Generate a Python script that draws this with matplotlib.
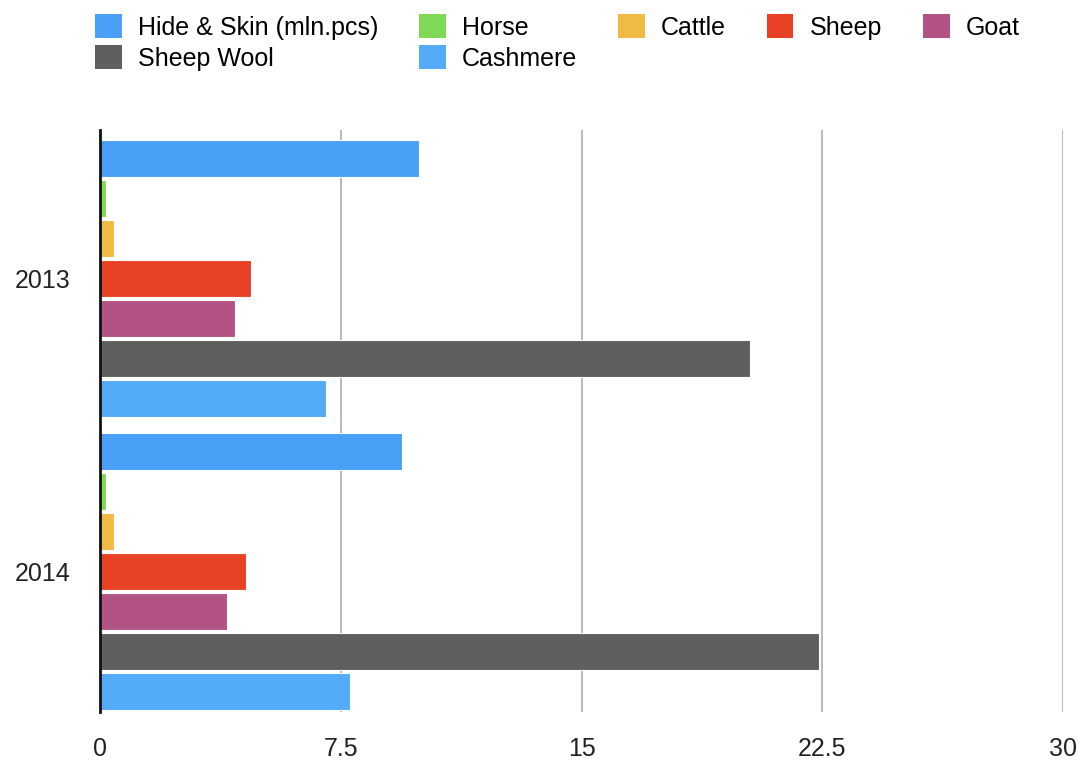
import numpy as np
import matplotlib.pyplot as plt
from matplotlib.patches import Patch

plt.rcParams['font.family'] = ['Liberation Sans', 'DejaVu Sans']

years = ['2013', '2014']
series = ['Hide & Skin (mln.pcs)', 'Horse', 'Cattle', 'Sheep', 'Goat', 'Sheep Wool', 'Cashmere']
hide_skin = [9.95, 9.4]
horse = [0.2, 0.2]
cattle = [0.45, 0.45]
sheep = [4.7, 4.55]
goat = [4.2, 3.95]
sheep_wool = [20.25, 22.4]
cashmere = [7.05, 7.8]
colors = ['#49a0f6', '#7ed957', '#f0bb42', '#e84126', '#b35284', '#5f5f5f', '#54abf8']

values = [hide_skin, horse, cattle, sheep, goat, sheep_wool, cashmere]

fig = plt.figure(figsize=(10.86, 7.63), dpi=100)
ax = fig.add_axes([0.092, 0.067, 0.887, 0.763])

y = np.arange(len(years))
slot = 0.1365
handles = []
for i, (name, vals, c) in enumerate(zip(series, values, colors)):
    ax.barh(y + (i - 3) * slot, vals, height=0.126, color=c,
            edgecolor='#ffffff', linewidth=0.8, zorder=3)
    handles.append(Patch(facecolor=c, edgecolor='none', label=name))

ax.set_xlim(0, 30)
ax.set_ylim(1.478, -0.509)
ax.set_xticks([0, 7.5, 15, 22.5, 30])
ax.set_xticklabels(['0', '7.5', '15', '22.5', '30'])
ax.set_yticks(y)
ax.set_yticklabels(years)
ax.tick_params(length=0, labelsize=18, colors='#222222')
ax.tick_params(axis='y', pad=21)
ax.tick_params(axis='x', pad=18)

for s in ['top', 'right', 'bottom']:
    ax.spines[s].set_visible(False)
ax.spines['left'].set_linewidth(2)
ax.spines['left'].set_color('#111111')
ax.spines['left'].set_zorder(5)
ax.grid(axis='x', color='#bbbbbb', linewidth=1.5, zorder=0)
ax.set_axisbelow(True)

# legend is filled column by column, so reorder to read row by row
order = [0, 5, 1, 6, 2, 3, 4]
fig.legend([handles[k] for k in order], [series[k] for k in order],
           ncol=5, loc='upper left', bbox_to_anchor=(0.067, 1.011),
           frameon=False, fontsize=18, handlelength=1.05, handleheight=1.1,
           handletextpad=0.65, columnspacing=1.65, labelspacing=0.22)

fig.savefig('out.png', dpi=100)
